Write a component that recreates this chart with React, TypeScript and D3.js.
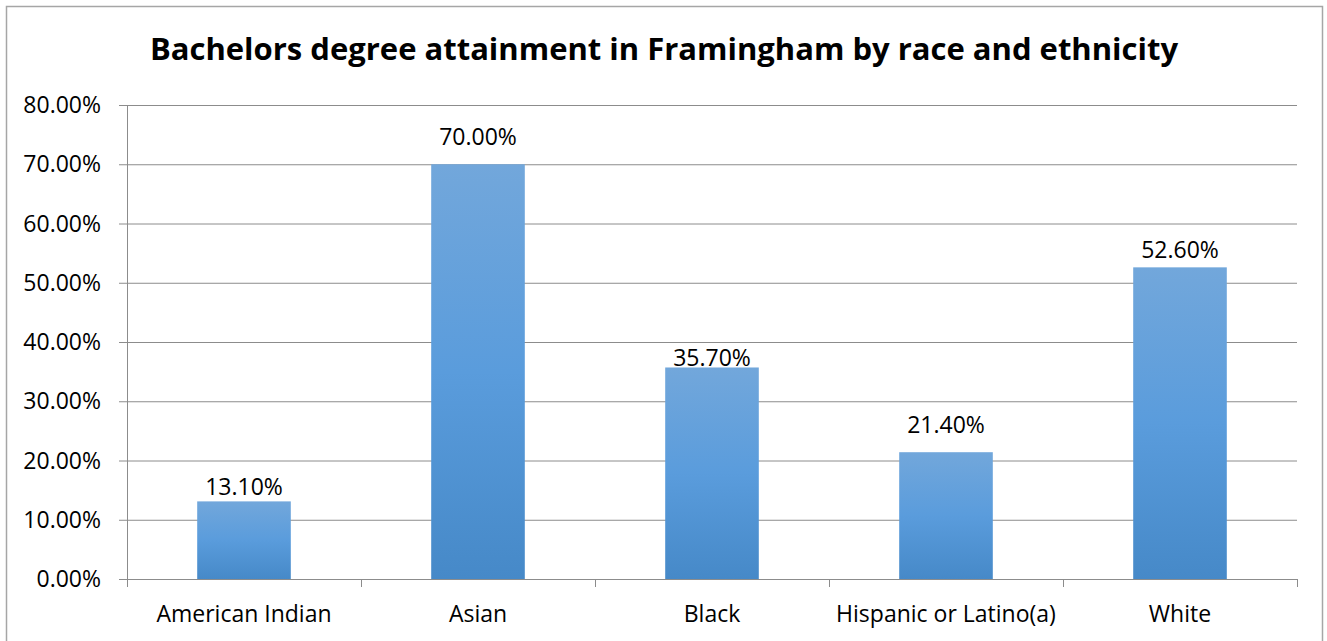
import React from "react";
import * as d3 from "d3";

const categories = ["American Indian", "Asian", "Black", "Hispanic or Latino(a)", "White"];
const values = [13.1, 70.0, 35.7, 21.4, 52.6];
const yTicks = [0, 10, 20, 30, 40, 50, 60, 70, 80];
const labelGaps = [6, 19, 1, 19, 9];
const title = "Bachelors degree attainment in Framingham by race and ethnicity";

const W = 1327;
const H = 641;
const FONT = "'Open Sans', sans-serif";

export default function App() {
  const left = 127;
  const right = 1297;
  const top = 105;
  const bottom = 579;
  const x = d3.scaleBand<string>().domain(categories).range([left, right]).paddingInner(0.6).paddingOuter(0.3);
  const xb = d3.scaleBand<string>().domain(categories).range([left, right]);
  const y = d3.scaleLinear().domain([0, 80]).range([bottom, top]);
  const grid = "#8c8c8c";

  return (
    <svg width={W} height={H} style={{ position: "absolute", left: 0, top: 0 }} fontFamily={FONT}>
      <defs>
        <linearGradient id="barGrad" x1="0" y1="0" x2="0" y2="1">
          <stop offset="0%" stopColor="#72a7db" />
          <stop offset="50%" stopColor="#5a9cdc" />
          <stop offset="100%" stopColor="#4689c8" />
        </linearGradient>
      </defs>
      <rect x={0} y={0} width={W} height={H} fill="#fff" />
      <rect x={6.5} y={6.5} width={1316} height={H} fill="#fff" stroke="#a6a6a6" strokeWidth={1.5} />
      <text x={664} y={60} textAnchor="middle" fontWeight="bold" fontSize={31} fill="#000">
        {title}
      </text>
      {yTicks.map((t) => (
        <g key={t}>
          <line x1={left - 8} x2={right} y1={y(t) + 0.5} y2={y(t) + 0.5} stroke={grid} strokeWidth={1} />
          <text x={101} y={y(t) + 8} textAnchor="end" fontSize={23} fill="#000">
            {t.toFixed(2)}%
          </text>
        </g>
      ))}
      <line x1={left + 0.5} x2={left + 0.5} y1={top} y2={bottom + 8} stroke={grid} />
      {categories.map((c, i) => (
        <line key={"t" + i} x1={(xb(c) as number) + xb.bandwidth() + 0.5} x2={(xb(c) as number) + xb.bandwidth() + 0.5} y1={bottom} y2={bottom + 8} stroke={grid} />
      ))}
      {categories.map((c, i) => (
        <rect key={"b" + i} x={x(c)} y={y(values[i])} width={x.bandwidth()} height={bottom - y(values[i])} fill="url(#barGrad)" />
      ))}
      <line x1={left} x2={right} y1={bottom + 0.5} y2={bottom + 0.5} stroke={grid} />
      {categories.map((c, i) => (
        <text key={"v" + i} x={(x(c) as number) + x.bandwidth() / 2} y={y(values[i]) - labelGaps[i]} textAnchor="middle" fontSize={23} fill="#000">
          {values[i].toFixed(2)}%
        </text>
      ))}
      {categories.map((c, i) => (
        <text key={"c" + i} x={(xb(c) as number) + xb.bandwidth() / 2} y={622} textAnchor="middle" fontSize={23} fill="#000">
          {c}
        </text>
      ))}
    </svg>
  );
}
